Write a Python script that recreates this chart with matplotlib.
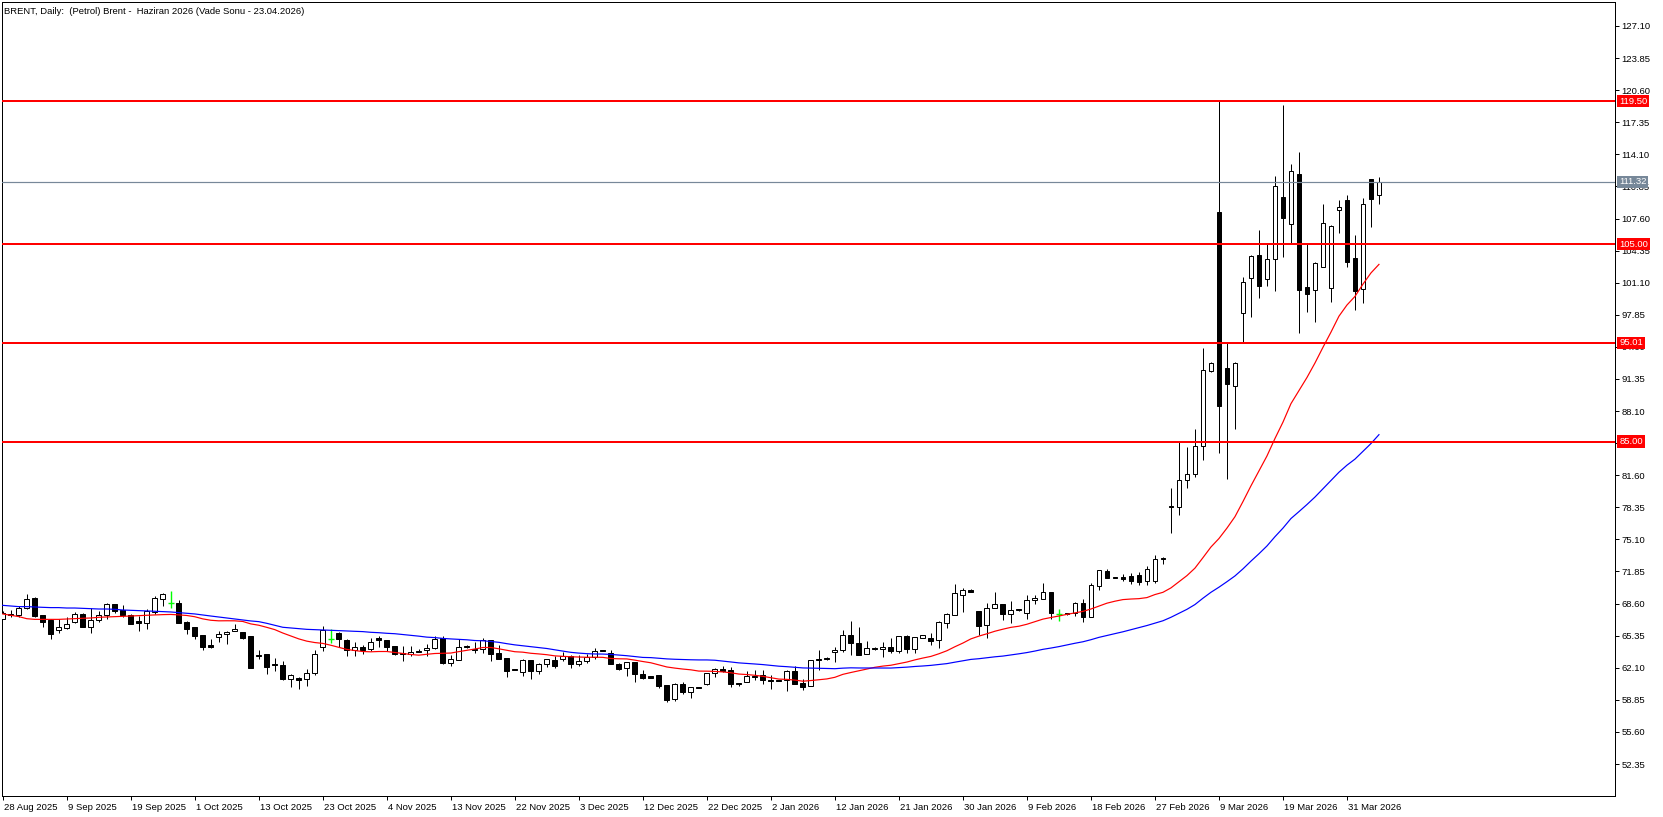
import matplotlib
matplotlib.use('Agg')
import matplotlib.pyplot as plt
import matplotlib.transforms as mtransforms
import numpy as np
import pandas as pd

plt.rcParams['font.family'] = ['Liberation Sans', 'DejaVu Sans']
FS = 6.8

# daily OHLC (bar 0 = 28 Aug 2025)
opens = [67.07, 67.55, 67.44, 68.12, 69.13, 67.41, 66.90, 65.89, 66.16, 66.70,
         67.55, 66.19, 66.90, 67.44, 68.56, 67.95, 67.48, 66.87, 66.60, 67.78,
         69.03, 68.69, 68.66, 66.73, 66.19, 65.38, 64.37, 65.25, 65.49, 65.79,
         65.72, 65.32, 63.36, 63.53, 62.48, 62.38, 60.93, 61.10, 60.93, 61.54,
         64.24, 65.05, 65.62, 64.91, 63.90, 64.17, 63.97, 65.12, 64.91, 64.30,
         63.53, 63.46, 63.73, 63.86, 64.06, 65.11, 62.61, 62.85, 64.30, 64.03,
         63.96, 64.87, 63.59, 63.12, 61.90, 61.70, 62.88, 61.73, 62.44, 62.88,
         62.95, 63.25, 62.44, 62.78, 63.22, 63.83, 63.62, 62.44, 62.04, 62.68,
         61.43, 61.26, 61.36, 60.35, 58.90, 60.45, 59.68, 60.14, 60.42, 61.53,
         61.97, 61.84, 60.45, 60.62, 61.30, 61.36, 60.86, 60.86, 60.86, 61.77,
         60.59, 60.28, 62.95, 62.98, 63.66, 63.86, 65.38, 64.57, 63.45, 64.13,
         63.96, 64.20, 63.83, 65.31, 64.03, 65.14, 65.14, 64.87, 66.66, 67.44,
         69.50, 69.97, 67.84, 66.39, 68.11, 68.52, 67.51, 68.01, 67.61, 68.92,
         69.02, 69.77, 67.51, 67.61, 67.67, 68.69, 67.27, 70.41, 71.89, 71.25,
         71.30, 71.40, 71.50, 70.90, 70.90, 73.20, 78.48, 78.42, 81.12, 81.69,
         84.56, 92.19, 108.23, 92.43, 90.64, 98.07, 101.54, 103.91, 101.44, 103.47,
         109.75, 107.01, 112.11, 100.63, 100.33, 102.66, 100.53, 108.46, 109.48, 103.57,
         100.43, 111.60, 109.98]
highs = [67.88, 67.95, 68.36, 69.57, 69.23, 67.41, 67.00, 67.00, 67.28, 67.78,
         67.65, 68.12, 67.85, 68.69, 68.56, 68.42, 67.55, 67.34, 68.02, 69.37,
         69.71, 69.88, 68.96, 66.84, 66.26, 65.38, 64.98, 65.86, 65.86, 66.53,
         65.76, 65.32, 63.90, 63.53, 63.09, 62.82, 61.44, 61.20, 62.01, 63.90,
         66.30, 65.99, 65.69, 64.98, 64.68, 64.41, 65.12, 65.28, 64.91, 64.30,
         64.30, 64.30, 64.00, 64.47, 65.31, 65.31, 63.39, 64.98, 64.40, 64.74,
         65.08, 64.87, 64.37, 63.12, 61.90, 62.95, 62.88, 62.61, 63.02, 63.32,
         63.73, 63.39, 63.39, 63.46, 64.10, 63.89, 63.89, 62.54, 62.68, 62.68,
         61.87, 61.26, 61.36, 60.35, 60.52, 60.69, 60.18, 60.18, 61.60, 62.04,
         62.28, 62.17, 60.59, 61.77, 61.87, 61.87, 61.36, 60.86, 61.87, 62.31,
         60.93, 62.88, 63.89, 63.22, 64.23, 65.92, 66.83, 66.22, 64.81, 64.23,
         64.74, 65.14, 65.31, 65.41, 65.21, 65.38, 65.65, 66.83, 67.67, 70.58,
         70.14, 70.04, 67.84, 68.69, 69.80, 68.52, 68.86, 68.01, 69.46, 69.46,
         70.65, 69.77, 68.01, 67.67, 68.79, 69.06, 70.71, 72.00, 72.10, 71.25,
         71.60, 71.70, 71.80, 72.40, 73.52, 73.35, 80.27, 85.00, 84.49, 86.28,
         94.45, 93.04, 119.50, 94.96, 93.10, 101.71, 103.91, 106.44, 105.09, 111.91,
         119.10, 113.09, 114.37, 105.02, 103.23, 109.07, 106.94, 109.48, 109.98, 105.93,
         109.71, 111.60, 111.84]
lows = [67.00, 67.28, 67.21, 68.02, 67.21, 66.26, 65.05, 65.65, 66.06, 66.60,
        66.19, 65.65, 66.77, 67.00, 67.61, 67.21, 66.50, 65.86, 66.06, 67.55,
        68.39, 68.19, 66.67, 65.55, 65.05, 63.90, 64.07, 64.74, 64.54, 65.79,
        64.98, 62.11, 62.99, 61.50, 61.77, 60.86, 60.12, 59.98, 60.29, 61.37,
        63.83, 64.64, 64.17, 63.32, 63.32, 63.46, 63.80, 64.24, 63.80, 63.43,
        62.82, 63.29, 63.66, 63.29, 63.96, 62.51, 62.27, 62.85, 64.10, 63.62,
        63.56, 62.81, 62.98, 61.19, 61.83, 61.29, 60.92, 61.46, 62.21, 62.11,
        62.78, 62.11, 62.27, 62.54, 62.95, 63.76, 62.44, 61.87, 61.29, 60.69,
        60.96, 61.09, 60.08, 58.60, 58.70, 59.44, 59.07, 60.08, 60.35, 61.20,
        61.63, 60.11, 60.28, 60.62, 60.86, 60.42, 59.95, 60.72, 59.74, 60.42,
        59.85, 60.28, 61.87, 62.92, 62.71, 63.72, 63.39, 63.42, 63.45, 63.89,
        63.22, 63.56, 63.56, 63.56, 63.56, 65.14, 64.40, 64.13, 66.09, 67.44,
        67.78, 69.73, 65.41, 65.14, 68.11, 66.93, 66.59, 67.88, 67.03, 68.52,
        69.02, 67.03, 66.86, 67.44, 67.34, 66.76, 67.27, 69.97, 71.15, 71.15,
        70.90, 70.60, 70.50, 70.50, 70.70, 72.60, 75.70, 77.57, 80.27, 81.46,
        83.15, 92.09, 83.82, 81.22, 86.25, 95.03, 97.66, 99.58, 100.80, 100.26,
        103.74, 105.09, 95.97, 98.10, 97.09, 102.66, 99.18, 106.17, 102.66, 98.34,
        99.08, 106.78, 109.07]
closes = [67.61, 67.41, 68.12, 69.03, 67.34, 66.77, 65.55, 66.19, 66.53, 67.55,
          66.26, 66.90, 67.41, 68.56, 67.88, 67.44, 66.57, 66.60, 67.82, 69.13,
          69.60, 68.69, 66.67, 66.06, 65.35, 64.24, 64.24, 65.49, 65.72, 66.03,
          65.15, 62.11, 63.29, 62.18, 62.35, 61.00, 61.37, 60.86, 61.54, 63.46,
          65.92, 65.05, 65.05, 63.90, 64.17, 63.90, 64.68, 64.91, 64.24, 63.46,
          63.46, 63.66, 63.66, 64.10, 65.01, 62.61, 62.95, 64.16, 64.16, 63.89,
          64.87, 63.52, 62.98, 61.80, 61.83, 62.88, 61.73, 62.44, 62.95, 62.31,
          63.25, 62.44, 62.78, 63.22, 63.79, 63.79, 62.44, 61.97, 62.68, 61.43,
          61.09, 61.09, 60.25, 58.80, 60.45, 59.68, 60.11, 60.08, 61.53, 61.94,
          61.77, 60.42, 60.42, 61.26, 61.20, 60.86, 60.76, 60.72, 61.77, 60.42,
          60.18, 62.88, 62.85, 62.95, 63.86, 65.38, 64.57, 63.42, 64.06, 63.99,
          64.20, 63.83, 65.31, 64.03, 65.21, 65.38, 64.84, 66.73, 67.51, 69.63,
          69.97, 69.73, 66.33, 68.11, 68.52, 67.51, 67.95, 67.91, 68.96, 69.13,
          69.77, 67.61, 67.51, 67.51, 68.69, 67.27, 70.48, 72.00, 71.22, 71.15,
          71.10, 70.90, 70.80, 72.10, 73.08, 73.10, 78.35, 81.12, 81.69, 84.56,
          92.26, 92.93, 88.65, 90.81, 92.93, 101.14, 103.80, 100.80, 103.50, 110.89,
          107.69, 112.41, 100.36, 99.92, 103.06, 107.11, 106.84, 108.73, 103.23, 100.29,
          109.04, 109.55, 111.32]

fast_period, slow_period = 22, 50
fast_head = [67.55, 67.41, 67.28, 67.07, 67.00, 67.00, 67.00, 67.00, 67.04, 67.07,
             67.11, 67.14, 67.21, 67.24, 67.28, 67.31, 67.34, 67.38, 67.41, 67.45,
             67.48]
slow_head = [68.42, 68.36, 68.29, 68.29, 68.25, 68.22, 68.19, 68.19, 68.15, 68.15,
             68.12, 68.09, 68.05, 68.05, 68.02, 67.95, 67.92, 67.88, 67.85, 67.82,
             67.78, 67.75, 67.68, 67.61, 67.55, 67.44, 67.34, 67.24, 67.14, 67.04,
             66.94, 66.84, 66.77, 66.60, 66.40, 66.20, 66.13, 66.06, 65.99, 65.96,
             65.92, 65.89, 65.86, 65.82, 65.79, 65.76, 65.69, 65.65, 65.59]

date_labels = ['28 Aug 2025', '9 Sep 2025', '19 Sep 2025', '1 Oct 2025', '13 Oct 2025',
               '23 Oct 2025', '4 Nov 2025', '13 Nov 2025', '22 Nov 2025', '3 Dec 2025',
               '12 Dec 2025', '22 Dec 2025', '2 Jan 2026', '12 Jan 2026', '21 Jan 2026',
               '30 Jan 2026', '9 Feb 2026', '18 Feb 2026', '27 Feb 2026', '9 Mar 2026',
               '19 Mar 2026', '31 Mar 2026']
label_step = 8  # one date label every 8 bars

levels = [119.50, 105.00, 95.01, 85.00]
level_labels = ['119.50', '105.00', '95.01', '85.00']
last_price = 111.32

ytick_vals = [52.35, 55.60, 58.85, 62.10, 65.35, 68.60, 71.85, 75.10, 78.35, 81.60,
              84.85, 88.10, 91.35, 94.60, 97.85, 101.10, 104.35, 107.60, 110.85,
              114.10, 117.35, 120.60, 123.85, 127.10]

title = 'BRENT, Daily:  (Petrol) Brent -  Haziran 2026 (Vade Sonu - 23.04.2026)'

# ------------------------------------------------------------
o = np.array(opens); h = np.array(highs); l = np.array(lows); c = np.array(closes)
x = np.arange(len(c))

ma_fast = pd.Series(c).rolling(fast_period).mean().to_numpy()
ma_fast[:len(fast_head)] = fast_head
ma_slow = pd.Series(c).rolling(slow_period).mean().to_numpy()
ma_slow[:len(slow_head)] = slow_head

W, H = 1663, 817
fig = plt.figure(figsize=(W / 100, H / 100), dpi=100)
ax = fig.add_axes([2 / W, (H - 796) / H, (1615 - 2) / W, (796 - 2) / H])

px = 0.72  # one pixel in points
doji = o == c
up = (c > o) & ~doji
dn = (c < o) & ~doji
bw = 0.6

# wicks
ax.vlines(x[~doji], l[~doji], h[~doji], color='black', lw=px, zorder=2)
# bodies
body_h = np.maximum(np.abs(c - o), 0.1)
ax.bar(x[up], body_h[up], bottom=o[up], width=bw, facecolor='white',
       edgecolor='black', linewidth=px, zorder=3)
ax.bar(x[dn], body_h[dn], bottom=c[dn], width=bw, facecolor='black',
       edgecolor='black', linewidth=px, zorder=3)
# doji drawn in lime
ax.vlines(x[doji], l[doji], h[doji], color='#00ff00', lw=px * 1.4, zorder=3)
ax.hlines(o[doji], x[doji] - 0.35, x[doji] + 0.35, color='#00ff00', lw=px * 1.4, zorder=3)

# moving averages
ax.plot(x, ma_fast, color='red', lw=px * 1.2, zorder=4)
ax.plot(x, ma_slow, color='blue', lw=px * 1.2, zorder=4)

# horizontal levels
for lv in levels:
    ax.axhline(lv, color='red', lw=2 * px, zorder=5)
ax.axhline(last_price, color='#778899', lw=px * 1.2, zorder=5)

ax.set_xlim(-0.09, 201.5)
ax.set_ylim(49.11, 129.53)

ax.set_xticks(np.arange(len(date_labels)) * label_step)
ax.set_xticklabels(date_labels, ha='left')
ax.set_yticks(ytick_vals)
ax.set_yticklabels(['%.2f' % v for v in ytick_vals])
ax.yaxis.tick_right()
ax.tick_params(axis='both', direction='out', length=3, width=px, labelsize=FS,
               colors='black')
ax.tick_params(axis='x', pad=2.2)
ax.tick_params(axis='y', pad=1.5)
for lab in ax.get_xticklabels():
    lab.set_transform(lab.get_transform() + mtransforms.ScaledTranslation(1 / 100, 0, fig.dpi_scale_trans))
for sp in ax.spines.values():
    sp.set_linewidth(px)
    sp.set_color('black')

# price tags on the right scale
trans = mtransforms.blended_transform_factory(ax.transAxes, ax.transData)
for lv, txt in zip(levels, level_labels):
    ax.text(1.0026, lv, txt, transform=trans, ha='left', va='center', color='white',
            fontsize=FS, clip_on=False, zorder=10,
            bbox=dict(boxstyle='square,pad=0.18', facecolor='red', edgecolor='none'))
ax.text(1.0026, last_price, '%.2f' % last_price, transform=trans, ha='left', va='center',
        color='white', fontsize=FS, clip_on=False, zorder=10,
        bbox=dict(boxstyle='square,pad=0.18', facecolor='#778899', edgecolor='none'))

ax.text(0.0015, 0.994, title, transform=ax.transAxes, ha='left', va='top',
        fontsize=FS, color='black')

fig.savefig('out.png', dpi=100, facecolor='white')
